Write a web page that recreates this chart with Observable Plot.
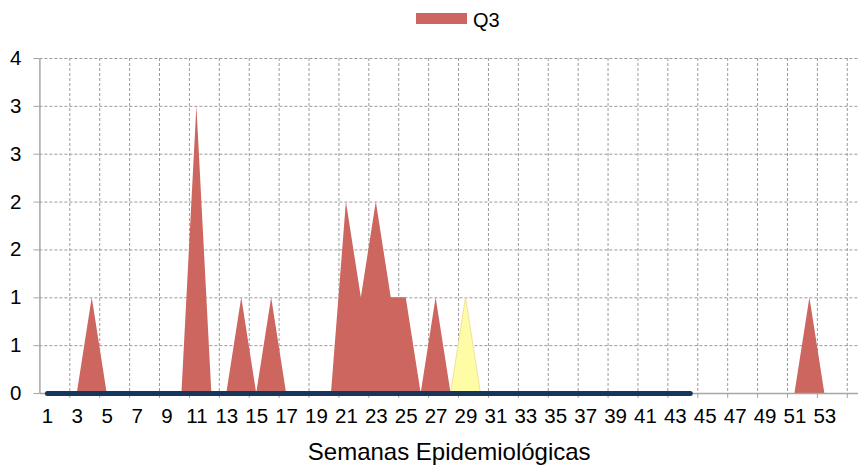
<!DOCTYPE html>
<html><head><meta charset="utf-8">
<script src="https://cdn.jsdelivr.net/npm/d3@7"></script>
<script src="https://cdn.jsdelivr.net/npm/@observablehq/plot@0.6"></script>
<style>
body{margin:0;background:#fff;font-family:"Liberation Sans",Arial,sans-serif;}
#wrap{position:relative;width:858px;height:465px;overflow:hidden;background:#fff}
#legend{position:absolute;left:0;top:0;width:858px;height:40px;z-index:2}
#legend .sw{position:absolute;left:416px;top:13px;width:51px;height:11px;background:#CC665F}
#legend .lb{position:absolute;left:473px;top:8px;font-size:20px;line-height:24px;color:#000}
</style></head><body>
<div id="wrap"><div id="legend"><div class="sw"></div><div class="lb">Q3</div></div></div>
<script>
// Epidemiological weeks (categories)
const weeks = [1,2,3,4,5,6,7,8,9,10,11,12,13,14,15,16,17,18,19,20,21,22,23,24,25,26,27,28,29,30,31,32,33,34,35,36,37,38,39,40,41,42,43,44,45,46,47,48,49,50,51,52,53];
// Q3 series (red area)
const q3 =    [0,0,0,1,0,0,0,0,0,0,3,0,0,1,0,1,0,0,0,0,2,1,2,1,1,0,1,0,0,0,0,0,0,0,0,0,0,0,0,0,0,0,0,0,0,0,0,0,0,0,0,1,0];
// Highlight series (yellow area)
const hlWeeks = [28,29,30];
const hlVals  = [0,1,0];
// Dark baseline series (weeks 1-44)
const lineWeeks = [1,2,3,4,5,6,7,8,9,10,11,12,13,14,15,16,17,18,19,20,21,22,23,24,25,26,27,28,29,30,31,32,33,34,35,36,37,38,39,40,41,42,43,44];
const lineVals  = [0,0,0,0,0,0,0,0,0,0,0,0,0,0,0,0,0,0,0,0,0,0,0,0,0,0,0,0,0,0,0,0,0,0,0,0,0,0,0,0,0,0,0,0];
// Axis ticks
const xLabels = [1,3,5,7,9,11,13,15,17,19,21,23,25,27,29,31,33,35,37,39,41,43,45,47,49,51,53];
const xBounds = [2.5,4.5,6.5,8.5,10.5,12.5,14.5,16.5,18.5,20.5,22.5,24.5,26.5,28.5,30.5,32.5,34.5,36.5,38.5,40.5,42.5,44.5,46.5,48.5,50.5,52.5,54.5];
const yTicks = [0,0.5,1,1.5,2,2.5,3,3.5];
const yLabels = ["0","1","1","2","2","3","3","4"];
const xTitle = "Semanas Epidemiológicas";

const redData = weeks.map((w,i)=>({w, v:q3[i]}));
const hlData = hlWeeks.map((w,i)=>({w, v:hlVals[i]}));
const lnData = lineWeeks.map((w,i)=>({w, v:lineVals[i]}));

const gridStroke = "#9a9a9a";
const axisStroke = "#a6a6a6";

const chart = Plot.plot({
  width: 858,
  height: 465,
  marginTop: 58,
  marginBottom: 72,
  marginLeft: 39.4,
  marginRight: 0,
  style: {fontFamily: '"Liberation Sans", Arial, sans-serif', background: "transparent", overflow: "visible"},
  x: {type: "linear", domain: [0.5, 55.25], axis: null},
  y: {domain: [0, 3.5], axis: null},
  marks: [
    Plot.ruleX(xBounds, {stroke: gridStroke, strokeWidth: 1, strokeDasharray: "3,2"}),
    Plot.ruleY(yTicks.filter(d => d > 0), {stroke: gridStroke, strokeWidth: 1, strokeDasharray: "3,2"}),
    Plot.areaY(redData, {x: "w", y: "v", fill: "#CC665F", curve: "linear"}),
    Plot.areaY(hlData, {x: "w", y: "v", fill: "#FFFCA6", stroke: "#EED98E", strokeWidth: 0.8, curve: "linear"}),
    Plot.ruleX([0.5], {stroke: axisStroke, strokeWidth: 1.5}),
    Plot.ruleY([0], {stroke: axisStroke, strokeWidth: 1.5}),
    Plot.axisY(yTicks, {anchor: "left", tickSize: 6, tickPadding: 12.5, fontSize: 20.5, stroke: axisStroke, fill: "#000",
      tickFormat: d => yLabels[yTicks.indexOf(d)], label: null}),
    Plot.axisX(xBounds, {anchor: "bottom", tickSize: 5, stroke: axisStroke, tickFormat: () => "", label: null}),
    Plot.axisX(xLabels, {anchor: "bottom", tickSize: 0, tickPadding: 15, fontSize: 20.5, fill: "#000", tickFormat: d => String(d), label: null}),
    Plot.line(lnData, {x: "w", y: "v", stroke: "#17365D", strokeWidth: 5, strokeLinecap: "round"}),
    Plot.text([xTitle], {frameAnchor: "bottom", dy: 66, fontSize: 24, fill: "#000"})
  ]
});
chart.style.position = "absolute";
chart.style.left = "0";
chart.style.top = "0";
document.getElementById("wrap").appendChild(chart);
</script>
</body></html>
